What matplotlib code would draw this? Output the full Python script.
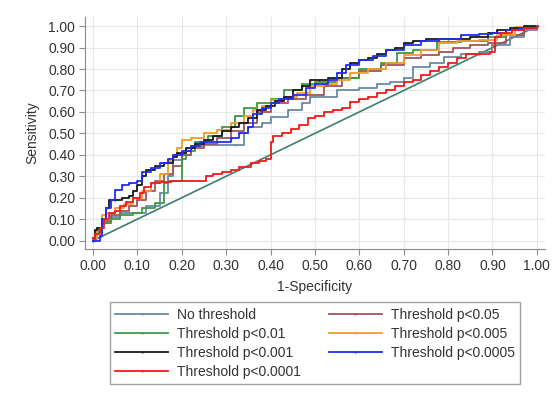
import matplotlib
matplotlib.use("Agg")
import matplotlib.pyplot as plt

plt.rcParams['font.family'] = ['Liberation Sans', 'DejaVu Sans']

# ROC curves: (1-specificity, sensitivity) for each threshold setting
fpr_none = [0.00, 0.01, 0.02, 0.04, 0.06, 0.08, 0.10, 0.12, 0.15, 0.17, 0.18, 0.20, 0.22, 0.25, 0.32, 0.34, 0.35, 0.38,
            0.40, 0.44, 0.47, 0.49, 0.55, 0.60, 0.64, 0.67, 0.70, 0.72, 0.76, 0.79, 0.83, 0.87, 0.90, 0.94, 0.97, 1.00]
tpr_none = [0.01, 0.04, 0.08, 0.11, 0.13, 0.13, 0.13, 0.16, 0.22, 0.30, 0.375, 0.40, 0.44, 0.445, 0.445, 0.50, 0.53, 0.55,
            0.576, 0.61, 0.64, 0.67, 0.70, 0.71, 0.73, 0.74, 0.76, 0.81, 0.83, 0.855, 0.87, 0.88, 0.91, 0.95, 0.98, 1.00]

fpr_p05 = [0.00, 0.01, 0.02, 0.04, 0.06, 0.08, 0.10, 0.12, 0.14, 0.16, 0.18, 0.20, 0.22, 0.25, 0.28, 0.31, 0.34,
           0.37, 0.40, 0.44, 0.48, 0.52, 0.56, 0.60, 0.65, 0.70, 0.74, 0.78, 0.81, 0.85, 0.89, 0.93, 0.97, 1.00]
tpr_p05 = [0.01, 0.05, 0.09, 0.12, 0.14, 0.16, 0.19, 0.23, 0.28, 0.31, 0.35, 0.40, 0.43, 0.45, 0.48, 0.51, 0.55,
           0.60, 0.64, 0.66, 0.68, 0.72, 0.76, 0.79, 0.82, 0.85, 0.865, 0.88, 0.90, 0.91, 0.92, 0.96, 0.99, 1.00]

fpr_p01 = [0.00, 0.01, 0.02, 0.04, 0.06, 0.09, 0.11, 0.14, 0.16, 0.17, 0.20, 0.21, 0.23, 0.26, 0.29, 0.32, 0.34,
           0.37, 0.40, 0.43, 0.47, 0.50, 0.55, 0.60, 0.65, 0.685, 0.72, 0.775, 0.83, 0.89, 0.93, 0.97, 1.00]
tpr_p01 = [0.01, 0.04, 0.08, 0.10, 0.12, 0.13, 0.15, 0.175, 0.27, 0.28, 0.38, 0.42, 0.46, 0.49, 0.53, 0.58, 0.62,
           0.64, 0.66, 0.70, 0.73, 0.74, 0.76, 0.80, 0.83, 0.875, 0.89, 0.925, 0.93, 0.95, 0.98, 0.99, 1.00]

fpr_p005 = [0.00, 0.01, 0.02, 0.03, 0.05, 0.07, 0.09, 0.11, 0.13, 0.15, 0.17, 0.18, 0.19, 0.20, 0.22, 0.25, 0.28,
            0.31, 0.34, 0.36, 0.38, 0.40, 0.43, 0.46, 0.49, 0.52, 0.55, 0.58, 0.62, 0.66, 0.70, 0.74, 0.78, 0.82,
            0.87, 0.91, 0.95, 1.00]
tpr_p005 = [0.01, 0.06, 0.12, 0.13, 0.15, 0.17, 0.20, 0.23, 0.27, 0.31, 0.37, 0.40, 0.43, 0.47, 0.48, 0.50, 0.515,
            0.55, 0.58, 0.61, 0.63, 0.655, 0.67, 0.69, 0.72, 0.73, 0.75, 0.78, 0.80, 0.83, 0.865, 0.89, 0.92, 0.93,
            0.935, 0.96, 0.995, 1.00]

fpr_p001 = [0.00, 0.005, 0.01, 0.02, 0.03, 0.035, 0.05, 0.065, 0.08, 0.09, 0.10, 0.11, 0.12, 0.14, 0.16, 0.18,
            0.19, 0.21, 0.23, 0.25, 0.27, 0.29, 0.31, 0.33, 0.35, 0.37, 0.39, 0.41, 0.43, 0.45, 0.47, 0.49, 0.51,
            0.53, 0.56, 0.58, 0.60, 0.62, 0.64, 0.66, 0.68, 0.70, 0.72, 0.75, 0.80, 0.85, 0.89, 0.91, 0.94, 0.97, 1.00]
tpr_p001 = [0.01, 0.05, 0.06, 0.10, 0.15, 0.19, 0.19, 0.20, 0.21, 0.23, 0.26, 0.30, 0.33, 0.35, 0.36, 0.39,
            0.41, 0.43, 0.45, 0.47, 0.49, 0.51, 0.53, 0.55, 0.57, 0.61, 0.63, 0.65, 0.67, 0.70, 0.72, 0.75, 0.75,
            0.76, 0.80, 0.83, 0.84, 0.85, 0.87, 0.89, 0.90, 0.92, 0.93, 0.94, 0.94, 0.95, 0.97, 0.98, 0.99, 1.00, 1.00]

fpr_p0005 = [0.00, 0.015, 0.02, 0.03, 0.04, 0.05, 0.065, 0.08, 0.10, 0.11, 0.13, 0.15, 0.17, 0.18, 0.20, 0.22,
             0.24, 0.31, 0.33, 0.35, 0.36, 0.38, 0.40, 0.42, 0.45, 0.48, 0.50, 0.53, 0.55, 0.57, 0.60, 0.63, 0.66,
             0.70, 0.74, 0.78, 0.83, 0.87, 0.90, 0.93, 0.96, 1.00]
tpr_p0005 = [0.00, 0.02, 0.10, 0.15, 0.19, 0.235, 0.26, 0.27, 0.28, 0.32, 0.34, 0.36, 0.38, 0.40, 0.42, 0.44,
             0.46, 0.48, 0.50, 0.53, 0.59, 0.62, 0.64, 0.66, 0.68, 0.71, 0.73, 0.75, 0.78, 0.82, 0.84, 0.86, 0.89,
             0.91, 0.93, 0.94, 0.96, 0.965, 0.97, 0.98, 0.99, 1.00]

fpr_p0001 = [0.00, 0.005, 0.015, 0.025, 0.035, 0.05, 0.06, 0.075, 0.09, 0.105, 0.115, 0.13, 0.15, 0.175, 0.255,
             0.27, 0.29, 0.31, 0.33, 0.355, 0.375, 0.39, 0.40, 0.405, 0.425, 0.445, 0.465, 0.485, 0.50, 0.52, 0.54,
             0.56, 0.58, 0.60, 0.62, 0.64, 0.66, 0.68, 0.70, 0.72, 0.74, 0.76, 0.78, 0.80, 0.82, 0.84, 0.87, 0.895,
             0.905, 0.92, 0.945, 0.97, 1.00]
tpr_p0001 = [0.01, 0.03, 0.06, 0.10, 0.13, 0.14, 0.16, 0.18, 0.20, 0.22, 0.25, 0.27, 0.275, 0.28, 0.30,
             0.31, 0.32, 0.33, 0.345, 0.36, 0.37, 0.38, 0.46, 0.49, 0.50, 0.52, 0.54, 0.57, 0.58, 0.60, 0.61,
             0.62, 0.645, 0.66, 0.67, 0.69, 0.70, 0.72, 0.74, 0.75, 0.77, 0.79, 0.81, 0.83, 0.85, 0.87, 0.87, 0.88,
             0.95, 0.97, 0.98, 0.99, 1.00]

chance = [0.0, 1.0]

labels = ["No threshold", "Threshold p<0.05", "Threshold p<0.01", "Threshold p<0.005",
          "Threshold p<0.001", "Threshold p<0.0005", "Threshold p<0.0001"]
colors = ["#6b8aa3", "#a3545c", "#3f9a45", "#f29b2a", "#1a1a1a", "#1f2ff0", "#f01c1c"]
curves = [(fpr_none, tpr_none), (fpr_p05, tpr_p05), (fpr_p01, tpr_p01), (fpr_p005, tpr_p005),
          (fpr_p001, tpr_p001), (fpr_p0005, tpr_p0005), (fpr_p0001, tpr_p0001)]

ticks = [0.00, 0.10, 0.20, 0.30, 0.40, 0.50, 0.60, 0.70, 0.80, 0.90, 1.00]
tick_labels = [f"{t:.2f}" for t in ticks]

fig = plt.figure(figsize=(5.52, 3.99), dpi=100)
ax = fig.add_axes([0.154, 0.376, 0.833, 0.581])

ax.plot(chance, chance, color="#3d7f6d", lw=1.2, zorder=2)

handles = {}
for (fx, ty), lab, col in zip(curves, labels, colors):
    h, = ax.plot(fx, ty, drawstyle="steps-post", color=col, lw=1.3,
                 marker="s", markersize=1.3, markeredgewidth=0, zorder=3, label=lab)
    handles[lab] = h

ax.set_xlim(-0.018, 1.018)
ax.set_ylim(-0.039, 1.042)
ax.set_xticks(ticks)
ax.set_xticklabels(tick_labels)
ax.set_yticks(ticks)
ax.set_yticklabels(tick_labels)
ax.grid(True, color="#e3e9ec", lw=0.8)
ax.set_axisbelow(True)
for s in ("top", "right"):
    ax.spines[s].set_visible(False)
for s in ("left", "bottom"):
    ax.spines[s].set_color("#8a8a8a")
ax.tick_params(colors="#8a8a8a", labelcolor="#333333", labelsize=10, length=4, pad=3)
ax.set_xlabel("1-Specificity", fontsize=10, color="#333333", labelpad=5)
ax.set_ylabel("Sensitivity", fontsize=10, color="#333333", labelpad=6)

order = ["No threshold", "Threshold p<0.01", "Threshold p<0.001", "Threshold p<0.0001",
         "Threshold p<0.05", "Threshold p<0.005", "Threshold p<0.0005"]
leg = fig.legend([handles[k] for k in order], order, ncol=2, loc="upper left",
                 bbox_to_anchor=(0.199, 0.243), borderaxespad=0.0, frameon=True, fancybox=False,
                 fontsize=10, handlelength=3.8, columnspacing=2.0, labelspacing=0.36,
                 borderpad=0.4, handletextpad=0.65)
leg.get_frame().set_edgecolor("#8a8a8a")
leg.get_frame().set_linewidth(1.0)
for t in leg.get_texts():
    t.set_color("#333333")

fig.savefig("out.png", dpi=100)
